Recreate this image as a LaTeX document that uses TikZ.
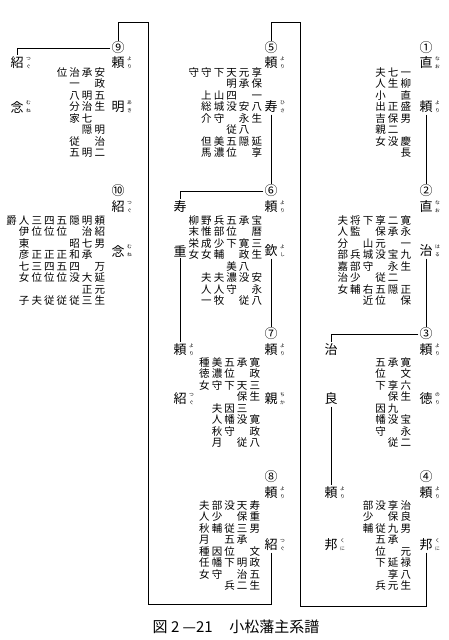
\documentclass[tikz,border=0pt]{standalone}
\usepackage{fontspec}
\setmainfont{Noto Sans CJK JP}
\newcommand\namef{\fontsize{13}{13}\selectfont}
\newcommand\annf{\fontsize{10.5}{10.5}\selectfont}
\newcommand\rubyf{\fontsize{4.8}{4.8}\selectfont}
\newcommand\circf{\fontsize{13}{13}\selectfont}
\newcommand\capf{\fontsize{15}{15}\selectfont}
\makeatletter
\newdimen\vcolw \vcolw=12.6pt
\newdimen\vrowh \vrowh=11.5pt
\def\vc@dot{.}
\newcommand\vcol[1]{\vtop{\baselineskip\vrowh\lineskiplimit-\maxdimen\lineskip0pt
  \@tfor\vc@c:=#1\do{\hbox to\vcolw{\hss\vphantom{国}\ifx\vc@c\vc@dot\else\vc@c\fi\hss}}}}
\newcommand\vblock[1]{\hbox{\def\vb@acc{}%
  \@for\vb@x:=#1\do{\toks@\expandafter{\vb@x}\toks2\expandafter{\vb@acc}%
  \edef\vb@acc{\noexpand\vcol{\the\toks@}\the\toks2}}\vb@acc}}
\makeatother
\begin{document}
\begin{tikzpicture}[x=1pt,y=-1pt,
  nmst/.style={inner sep=1.5pt, font=\namef},
  rubyst/.style={inner sep=0pt, font=\rubyf},
  ruby/.style n args={2}{append after command={
      node[rubyst] (\tikzlastnode-r1) at ([xshift=3.2pt,yshift=3.9pt]\tikzlastnode.east) {#1}
      node[rubyst] (\tikzlastnode-r2) at ([yshift=-7.8pt]\tikzlastnode.center) {#2}}},
  circ/.style={inner sep=1pt, font=\circf},
  blk/.style={inner sep=0pt, anchor=north east, font=\annf},
  ln/.style={line width=0.6pt},
  dbl/.style={double, double distance=1.4pt, line width=0.45pt}]
\fill[white] (0,0) rectangle (449,640);
\useasboundingbox (0,0) rectangle (449,640);
% ---------- right section ----------
\node[circ] (c1) at (426,48) {①};
\node[nmst, ruby={な}{お}] (n1a) at (426,63) {直};
\node[nmst, ruby={よ}{り}] (n1b) at (426,107) {頼};
\node[blk] (b1) at ({406+6.3},{72-4.6}) {\vblock{一柳直盛男.慶長,七生.正保二没,夫人小出吉親女}};
\node[circ] (c2) at (426,191) {②};
\node[nmst, ruby={な}{お}] (n2a) at (426,207) {直};
\node[nmst, ruby={は}{る}] (n2b) at (426,251) {治};
\node[blk] (b2) at ({406+6.3},{220-4.6}) {\vblock{寛永一九生.正保,二承.宝永二隠.,享保元没.従五位,下.山城守.右近,将監.兵部少輔.,夫人分部嘉治女.}};
\node[circ] (c3) at (426,334) {③};
\node[nmst, ruby={よ}{り}] (n3a) at (426,350) {頼};
\node[nmst, ruby={の}{り}] (n3b) at (426,399) {徳};
\node[blk] (b3) at ({406+6.3},{362-4.6}) {\vblock{寛文六生.宝永二,承.享保九没.従,五位下.因幡守.}};
\node[circ] (c4) at (426,477) {④};
\node[nmst, ruby={よ}{り}] (n4a) at (426,493) {頼};
\node[nmst, ruby={く}{に}] (n4b) at (426,545) {邦};
\node[blk] (b4) at ({406+6.3},{505-4.6}) {\vblock{治良男.元禄八生,享保九承.延享元,没.従五位下.兵,部少輔}};
\node[nmst] (l3a) at (331,350) {治};
\node[nmst] (l3b) at (331,399) {良};
\node[nmst, ruby={よ}{り}] (l3c) at (331,493) {頼};
\node[nmst, ruby={く}{に}] (l3d) at (331,545) {邦};
% ---------- middle section ----------
\node[circ] (c5) at (271,48) {⑤};
\node[nmst, ruby={よ}{り}] (n5a) at (271,63) {頼};
\node[nmst, ruby={ひ}{さ}] (n5b) at (271,107) {寿};
\node[blk] (b5) at ({257+6.3},{72-4.6}) {\vblock{享保一八生.延享,元承.安永八隠.,天明四没.従五位,下.山城守.美濃,守.上総介.但馬,守}};
\node[circ] (c6) at (271,191) {⑥};
\node[nmst, ruby={よ}{り}] (n6a) at (271,207) {頼};
\node[nmst, ruby={よ}{し}] (n6b) at (271,251) {欽};
\node[blk] (b6) at ({257+6.3},{220-4.6}) {\vblock{宝暦三生.安永八,承.寛政八没.従,五位下.美濃守.,兵部少輔.夫人牧,野惟成女.夫人一,柳末栄女}};
\node[circ] (c7) at (271,334) {⑦};
\node[nmst, ruby={よ}{り}] (n7a) at (271,350) {頼};
\node[nmst, ruby={ち}{か}] (n7b) at (271,399) {親};
\node[blk] (b7) at ({255+6.3},{362-4.6}) {\vblock{寛政三生.寛政八,承.天保三没.従,五位下.因幡守.,美濃守.夫人秋月,種徳女}};
\node[circ] (c8) at (271,477) {⑧};
\node[nmst, ruby={よ}{り}] (n8a) at (271,493) {頼};
\node[nmst, ruby={つ}{ぐ}] (n8b) at (271,545) {紹};
\node[blk] (b8) at ({255+6.3},{505-4.6}) {\vblock{寿重男.文政五生,天保三承.明治二,没.従五位下.兵,部少輔.因幡守.,夫人秋月種任女}};
\node[nmst] (l6a) at (180,207) {寿};
\node[nmst] (l6b) at (180,251) {重};
\node[nmst, ruby={よ}{り}] (l6c) at (180,350) {頼};
\node[nmst, ruby={つ}{ぐ}] (l6d) at (180,399) {紹};
% ---------- left section ----------
\node[circ] (c9) at (118,48) {⑨};
\node[nmst, ruby={よ}{り}] (n9a) at (118,63) {頼};
\node[nmst, ruby={あ}{き}] (n9b) at (118,107) {明};
\node[blk] (b9) at ({100+6.3},{72-4.6}) {\vblock{安政五生.明治二,承.明治七隠.明,治一八分家.従五,位}};
\node[circ] (c10) at (118,191) {⑩};
\node[nmst, ruby={つ}{ぐ}] (n10a) at (118,207) {紹};
\node[nmst, ruby={む}{ね}] (n10b) at (118,251) {念};
\node[blk] (b10) at ({100+6.3},{220-4.6}) {\vblock{頼紹男.万延元生,明治七承.大正三,隠.昭和四没.従,五位.正五位.従,四位.正四位.従,三位.正三位.夫,人伊東彦七女.子,爵}};
\node[nmst, ruby={つ}{ぐ}] (l9a) at (17,63) {紹};
\node[nmst, ruby={む}{ね}] (l9b) at (17,107) {念};
% ---------- caption ----------
\node[inner sep=0pt, font=\capf] (cap) at (236,627) {図 2 —21\hspace{1.1em}小松藩主系譜};
% ---------- connectors ----------
\coordinate (m1) at (300,606);
\coordinate (m2) at (148,604);
\coordinate (tp) at (0,22);
\draw[ln] (n1b.south) -- (c2.north);
\draw[ln] (n2b.south) -- (c3.north);
\draw[dbl] (n3b.south) -- (c4.north);
\draw[ln] (n4b.south) |- (m1) |- (c5.north |- tp) -- (c5.north);
\draw[ln] (c3.west) -| (l3a.north);
\draw[ln] (l3b.south) -- (l3c.north);
\draw[ln] (n5b.south) -- (c6.north);
\draw[ln] (c6.west) -| (l6a.north);
\draw[ln] (l6b.south) -- (l6c.north);
\draw[ln] (n6b.south) -- (c7.north);
\draw[dbl] (n7b.south) -- (c8.north);
\draw[ln] (n8b.south) |- (m2) |- (c9.north |- tp) -- (c9.north);
\draw[ln] (c9.west) -| (l9a.north);
\draw[dbl] (n9b.south) -- (c10.north);
\end{tikzpicture}
\end{document}
